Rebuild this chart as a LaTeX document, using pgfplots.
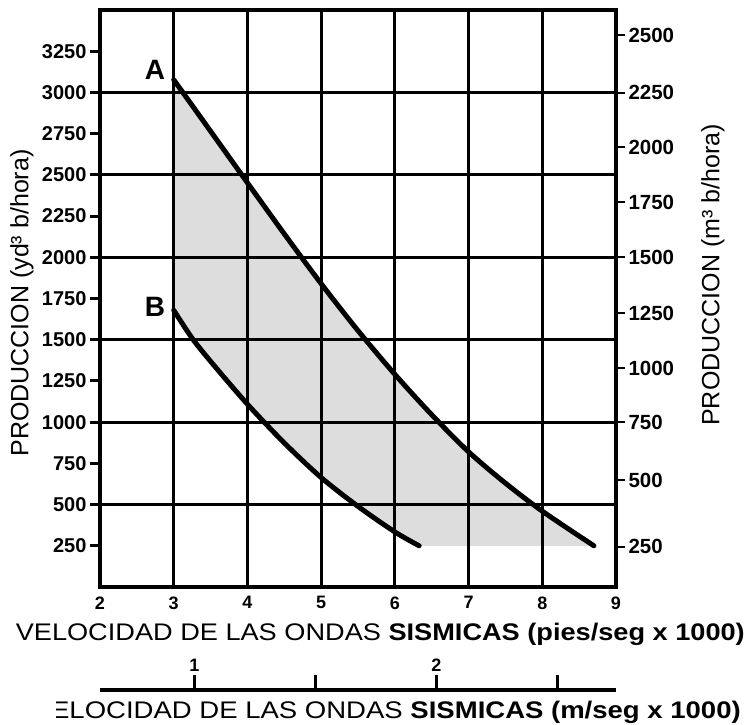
\documentclass[border=0pt]{standalone}
\usepackage{fontspec}
\setmainfont{Liberation Sans}
\usepackage{pgfplots}
\pgfplotsset{compat=1.18}
\usepgfplotslibrary{fillbetween}

\definecolor{sombra}{RGB}{221,221,221}
\newcommand{\tickfont}{\fontsize{18}{18}\selectfont\bfseries}

\begin{document}
\begin{tikzpicture}
\pgfplotsset{
  /pgf/number format/assume math mode=true,
  /pgf/number format/1000 sep={},
}
% eje principal: pies/seg y yd3/hora
\begin{axis}[
  at={(100pt,137pt)}, anchor=south west,
  scale only axis, width=516pt, height=577pt,
  xmin=2, xmax=9, ymin=0, ymax=3500,
  set layers, axis on top,
  xtick={2,...,9}, ytick={250,500,...,3250},
  xticklabels={{\tickfont 2},{\tickfont 3},{\tickfont 4},{\tickfont 5},
               {\tickfont 6},{\tickfont 7},{\tickfont 8},{\tickfont 9}},
  xticklabel style={yshift=4pt},
  xmajorgrids,
  extra y ticks={500,1000,...,3000}, extra y tick labels={},
  extra y tick style={grid=major},
  grid style={line width=3.2pt, black},
  axis line style={line width=3.5pt},
  ytick pos=left, xtick pos=bottom,
  tick align=outside, major tick length=10pt,
  tick style={line width=3pt, black},
  xtick style={draw=none},
  yticklabel style={font=\fontsize{20}{20}\selectfont\bfseries},
]
\addplot[name path=A, line width=5pt, smooth, line cap=round] coordinates {
  (3,3077) (3.5,2765) (4,2452) (4.5,2142) (5,1840) (5.5,1555)
  (6,1290) (6.5,1045) (7,820) (7.5,630) (8,460) (8.7,250)
};
\addplot[name path=B, line width=5pt, smooth, line cap=round] coordinates {
  (3,1679) (3.25,1509) (3.5,1369) (4,1109) (4.5,874) (5,664)
  (5.5,489) (6,334) (6.33,250)
};
\addplot[sombra] fill between[of=A and B];
\node[font=\fontsize{28}{28}\selectfont\bfseries] at (axis cs:2.746,3136) {A};
\node[font=\fontsize{28}{28}\selectfont\bfseries] at (axis cs:2.746,1698) {B};
\end{axis}

% eje derecho: m3/hora
\begin{axis}[
  at={(100pt,137pt)}, anchor=south west,
  scale only axis, width=516pt, height=577pt,
  xmin=2, xmax=9, ymin=0, ymax=3500,
  axis x line=none, axis y line*=right,
  ytick={243,649,1001,1328,1662,2002,2335,2669,2997,3348},
  yticklabels={250,500,750,1000,1250,1500,1750,2000,2250,2500},
  tick align=outside, major tick length=9pt,
  tick style={line width=2.6pt, black},
  axis line style={line width=3.5pt},
  yticklabel style={font=\fontsize{20.5}{20.5}\selectfont\bfseries},
]
\end{axis}

% escala en m/seg
\begin{axis}[
  at={(100pt,34pt)}, anchor=north west,
  scale only axis, width=516pt, height=20pt,
  xmin=0.6096, xmax=2.7432, ymin=0, ymax=1,
  axis y line=none, axis x line*=top,
  xtick={1,1.5,2,2.5},
  xticklabels={{\fontsize{18}{18}\selectfont\bfseries 1},,{\fontsize{18}{18}\selectfont\bfseries 2},},
  tick align=outside, major tick length=15pt,
  tick style={line width=3pt, black},
  axis line style={line width=3.5pt},
]
\end{axis}

\node[rotate=90, font=\fontsize{25}{25}\selectfont] at (22pt,421pt) {PRODUCCION (yd³ b/hora)};
\node[rotate=90, font=\fontsize{25}{25}\selectfont] at (713pt,449pt) {PRODUCCION (m³ b/hora)};
\node[anchor=base east, inner sep=0pt] at (745pt,84pt)
  {\resizebox{729pt}{\height}{\fontsize{24}{24}\selectfont VELOCIDAD DE LAS ONDAS \textbf{SISMICAS (pies/seg x 1000)}}};
\begin{scope}
  \clip (56pt,0pt) rectangle (748pt,40pt);
  \node[anchor=base east, inner sep=0pt] at (741pt,6pt)
    {\resizebox{708pt}{\height}{\fontsize{24}{24}\selectfont VELOCIDAD DE LAS ONDAS \textbf{SISMICAS (m/seg x 1000)}}};
\end{scope}

\pgfresetboundingbox
\useasboundingbox (0,0) rectangle (748pt,724pt);
\end{tikzpicture}
\end{document}
